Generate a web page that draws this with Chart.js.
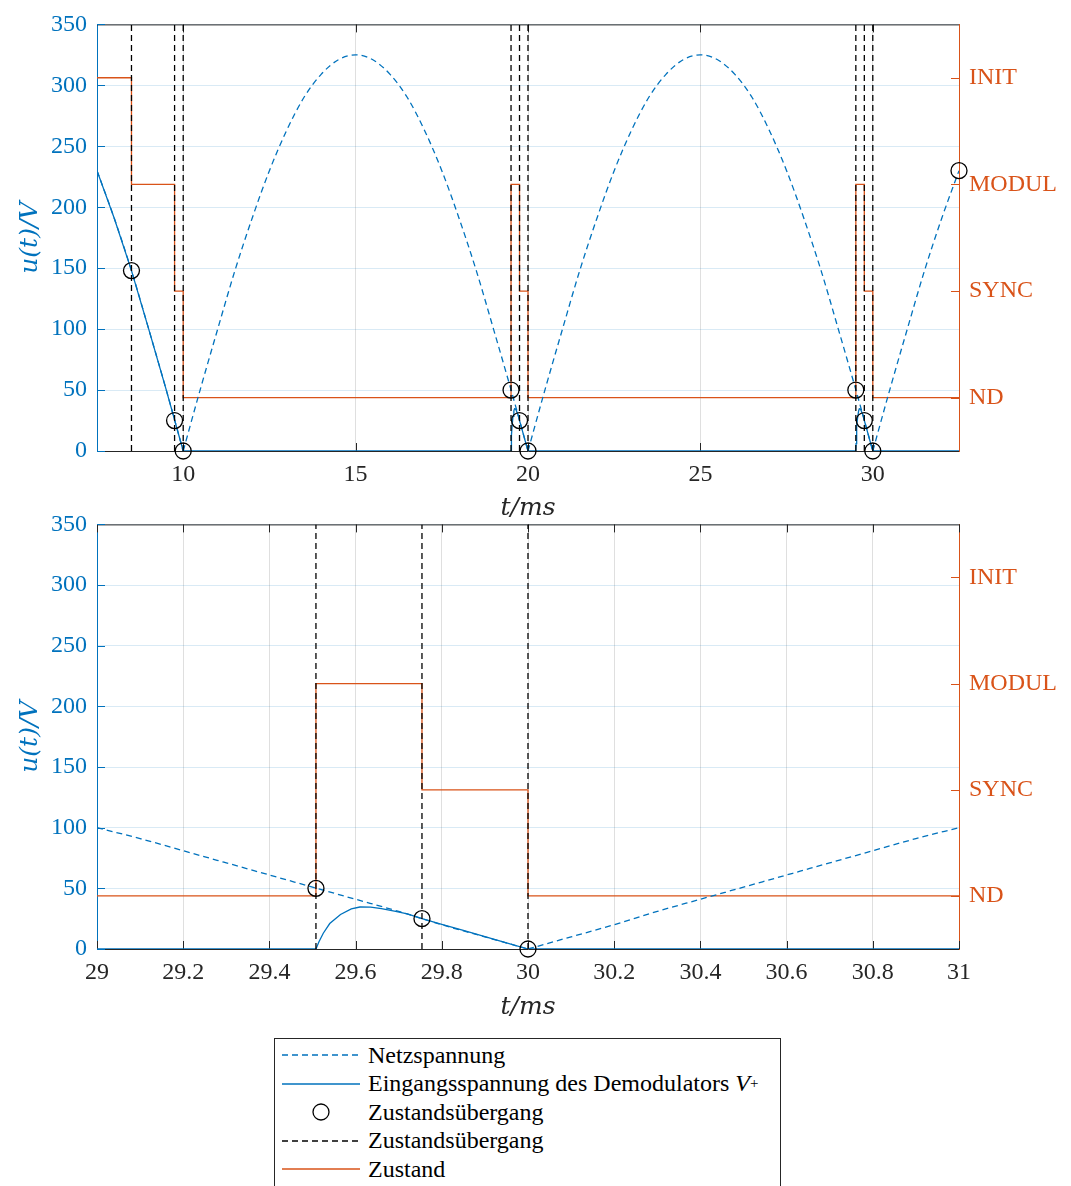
<!DOCTYPE html>
<html>
<head>
<meta charset="utf-8">
<script src="https://cdn.jsdelivr.net/npm/chart.js@4.4.1/dist/chart.umd.min.js"></script>
<style>
  body { margin: 0; background: #fff; width: 1071px; height: 1186px; overflow: hidden; position: relative; }
  canvas { position: absolute; left: 0; }
  #topChart { top: 0; }
  #bottomChart { top: 500px; }
  #legend {
    position: absolute; left: 274px; top: 1038px; width: 507px; height: 170px;
    border: 1px solid #262626; box-sizing: border-box; padding-top: 2px;
    font-family: 'Liberation Serif', 'Times New Roman', Times, 'DejaVu Serif', serif; font-size: 24px; color: #000;
  }
  #legend .row { height: 28.5px; display: flex; align-items: center; }
  #legend svg { margin-left: 7px; margin-right: 8px; flex: none; }
  #legend sub { font-size: 15px; }
</style>
</head>
<body>
<canvas id="topChart" width="1071" height="525"></canvas>
<canvas id="bottomChart" width="1071" height="530"></canvas>
<div id="legend">
  <div class="row"><svg width="78" height="20"><line x1="0" y1="10" x2="78" y2="10" stroke="#0072BD" stroke-width="1.3" stroke-dasharray="6 4"/></svg>Netzspannung</div>
  <div class="row"><svg width="78" height="20"><line x1="0" y1="10" x2="78" y2="10" stroke="#0072BD" stroke-width="1.3"/></svg>Eingangsspannung des Demodulators&nbsp;<i>V</i><sub>+</sub></div>
  <div class="row"><svg width="78" height="20"><circle cx="39" cy="10" r="8" fill="none" stroke="#000" stroke-width="1.3"/></svg>Zustandsübergang</div>
  <div class="row"><svg width="78" height="20"><line x1="0" y1="10" x2="78" y2="10" stroke="#000" stroke-width="1.3" stroke-dasharray="6 4"/></svg>Zustandsübergang</div>
  <div class="row"><svg width="78" height="20"><line x1="0" y1="10" x2="78" y2="10" stroke="#D95319" stroke-width="1.3"/></svg>Zustand</div>
</div>
<script>
const blue = '#0072BD';
const orange = '#D95319';
const ink = '#262626';

// ---- top plot, 7.5 .. 32.5 ms ----
const netzTimeTop = [7.5, 8, 8.5, 9, 9.5, 10, 10.5, 11, 11.5, 12, 12.5, 13, 13.5, 14, 14.5, 15, 15.5, 16, 16.5, 17, 17.5, 18, 18.5, 19, 19.5, 20,
  20.5, 21, 21.5, 22, 22.5, 23, 23.5, 24, 24.5, 25, 25.5, 26, 26.5, 27, 27.5, 28, 28.5, 29, 29.5, 30, 30.5, 31, 31.5, 32, 32.5];
const netzVoltTop = [230, 191, 148, 100, 51, 0, 51, 100, 148, 191, 230, 263, 290, 309, 321, 325, 321, 309, 290, 263, 230, 191, 148, 100, 51, 0,
  51, 100, 148, 191, 230, 263, 290, 309, 321, 325, 321, 309, 290, 263, 230, 191, 148, 100, 51, 0, 51, 100, 148, 191, 230];

const vplusTimeTop = [7.5, 8, 8.5, 9, 9.5, 10,
  19.508, 19.515, 19.525, 19.54, 19.565, 19.59, 19.61, 19.635, 19.66, 19.69, 19.72, 19.754, 19.8, 19.85, 19.9, 19.95, 20,
  29.508, 29.515, 29.525, 29.54, 29.565, 29.59, 29.61, 29.635, 29.66, 29.69, 29.72, 29.754, 29.8, 29.85, 29.9, 29.95, 30, 32.5];
const vplusVoltTop = [230, 191, 148, 100, 51, 0,
  0, 6, 13, 21, 28.5, 33, 34.6, 34.5, 33.2, 31.2, 29, 25, 20.4, 15.3, 10.2, 5.1, 0,
  0, 6, 13, 21, 28.5, 33, 34.6, 34.5, 33.2, 31.2, 29, 25, 20.4, 15.3, 10.2, 5.1, 0, 0];

const stateTimeTop = [7.5, 8.5, 9.75, 10, 19.508, 19.754, 20, 29.508, 29.754, 30, 32.5];
const stateTop = ['INIT', 'MODUL', 'SYNC', 'ND', 'MODUL', 'SYNC', 'ND', 'MODUL', 'SYNC', 'ND', 'ND'];

const switchTimeTop = [8.5, 9.75, 10, 19.508, 19.754, 20, 29.508, 29.754, 30];
const markTimeTop = [8.5, 9.75, 10, 19.508, 19.754, 20, 29.508, 29.754, 30, 32.5];
const markVoltTop = [148, 25, 0, 50, 25, 0, 50, 25, 0, 230];
const xTicksTop = [10, 15, 20, 25, 30];

// ---- bottom plot, zoom 29 .. 31 ms ----
const netzTimeBot = [29, 29.1, 29.2, 29.3, 29.4, 29.5, 29.6, 29.7, 29.8, 29.9, 30, 30.1, 30.2, 30.3, 30.4, 30.5, 30.6, 30.7, 30.8, 30.9, 31];
const netzVoltBot = [100, 91, 81, 71, 61, 51, 41, 31, 20, 10, 0, 10, 20, 31, 41, 51, 61, 71, 81, 91, 100];

const vplusTimeBot = [29, 29.508, 29.515, 29.525, 29.54, 29.565, 29.59, 29.61, 29.635, 29.66, 29.69, 29.72, 29.754, 29.8, 29.85, 29.9, 29.95, 30, 31];
const vplusVoltBot = [0, 0, 6, 13, 21, 28.5, 33, 34.6, 34.5, 33.2, 31.2, 29, 25, 20.4, 15.3, 10.2, 5.1, 0, 0];

const stateTimeBot = [29, 29.508, 29.754, 30, 31];
const stateBot = ['ND', 'MODUL', 'SYNC', 'ND', 'ND'];

const switchTimeBot = [29.508, 29.754, 30];
const markTimeBot = [29.508, 29.754, 30];
const markVoltBot = [50, 25, 0];
const xTicksBot = [29, 29.2, 29.4, 29.6, 29.8, 30, 30.2, 30.4, 30.6, 30.8, 31];

const yTicks = [0, 50, 100, 150, 200, 250, 300, 350];
const stateLabels = ['ND', 'SYNC', 'MODUL', 'INIT'];

const serif = "'Liberation Serif', 'Times New Roman', Times, 'DejaVu Serif', serif";
const tickFont = { family: serif, size: 24 };
const titleFont = { family: "'DejaVu Serif', 'Liberation Serif', 'Times New Roman', serif", style: 'italic', size: 25 };

function pts(ts, vs) {
  return ts.map((t, i) => ({ x: t, y: vs[i] }));
}

// split the rectified sine at its zeros so every half wave keeps a sharp cusp
function halfWaves(ts, vs) {
  const out = [];
  let cur = [];
  ts.forEach((t, i) => {
    cur.push({ x: t, y: vs[i] });
    if (vs[i] === 0 && cur.length > 1) {
      out.push(cur);
      cur = [{ x: t, y: vs[i] }];
    }
  });
  if (cur.length > 1) out.push(cur);
  return out;
}

function switchLines(ts) {
  const d = [];
  ts.forEach(t => {
    d.push({ x: t, y: 0 }, { x: t, y: 350 }, { x: t, y: null });
  });
  return d;
}

const innerTicks = {
  id: 'innerTicks',
  beforeDatasetsDraw(chart) {
    const { ctx, chartArea: a, scales } = chart;
    const len = 8;
    ctx.save();
    ctx.lineWidth = 1;
    ctx.strokeStyle = ink;
    ctx.beginPath();
    scales.x.ticks.forEach(t => {
      const px = Math.round(scales.x.getPixelForValue(t.value)) + 0.5;
      ctx.moveTo(px, a.bottom);
      ctx.lineTo(px, a.bottom - len);
      ctx.moveTo(px, a.top);
      ctx.lineTo(px, a.top + len);
    });
    ctx.moveTo(a.left, a.top + 0.5);
    ctx.lineTo(a.right, a.top + 0.5);
    ctx.stroke();

    ctx.strokeStyle = blue;
    ctx.beginPath();
    scales.y.ticks.forEach(t => {
      const py = Math.round(scales.y.getPixelForValue(t.value)) + 0.5;
      ctx.moveTo(a.left, py);
      ctx.lineTo(a.left + len, py);
    });
    ctx.stroke();

    ctx.strokeStyle = orange;
    ctx.beginPath();
    scales.y1.ticks.forEach(t => {
      const py = Math.round(scales.y1.getPixelForValue(t.value)) + 0.5;
      ctx.moveTo(a.right, py);
      ctx.lineTo(a.right - len, py);
    });
    ctx.stroke();
    ctx.restore();
  }
};

function makeChart(id, d) {
  const datasets = [];
  datasets.push({
    label: 'Zustandsübergang',
    data: pts(d.markTime, d.markVolt),
    showLine: false,
    pointStyle: 'circle',
    pointRadius: 8,
    pointBorderColor: '#000',
    pointBackgroundColor: 'rgba(0,0,0,0)',
    pointBorderWidth: 1.3,
    clip: false,
    yAxisID: 'y'
  });
  datasets.push({
    label: 'Zustandsübergang',
    data: switchLines(d.switchTime),
    borderColor: '#000',
    borderWidth: 1.3,
    borderDash: [6, 4],
    pointRadius: 0,
    spanGaps: false,
    yAxisID: 'y'
  });
  datasets.push({
    label: 'Eingangsspannung des Demodulators V+',
    data: pts(d.vplusTime, d.vplusVolt),
    borderColor: blue,
    borderWidth: 1.3,
    pointRadius: 0,
    yAxisID: 'y'
  });
  halfWaves(d.netzTime, d.netzVolt).forEach(w => {
    datasets.push({
      label: 'Netzspannung',
      data: w,
      borderColor: blue,
      borderWidth: 1.3,
      borderDash: [6, 4],
      pointRadius: 0,
      cubicInterpolationMode: 'monotone',
      yAxisID: 'y'
    });
  });
  datasets.push({
    label: 'Zustand',
    data: d.stateTime.map((t, i) => ({ x: t, y: stateLabels.indexOf(d.state[i]) + 1 })),
    borderColor: orange,
    borderWidth: 1.3,
    pointRadius: 0,
    stepped: 'before',
    yAxisID: 'y1'
  });

  return new Chart(document.getElementById(id).getContext('2d'), {
    type: 'line',
    data: { datasets: datasets },
    plugins: [innerTicks],
    options: {
      responsive: false,
      animation: false,
      events: [],
      layout: { padding: { top: 21, left: 0, right: 0, bottom: 0 } },
      plugins: {
        legend: { display: false },
        tooltip: { enabled: false },
        title: { display: false }
      },
      scales: {
        x: {
          type: 'linear',
          min: d.xMin,
          max: d.xMax,
          afterBuildTicks: s => { s.ticks = d.xTicks.map(v => ({ value: v })); },
          afterFit: s => { s.height = d.xHeight; },
          ticks: { color: ink, font: tickFont, padding: 9, autoSkip: false, maxRotation: 0, callback: v => String(v) },
          grid: { color: 'rgba(38,38,38,0.15)', drawTicks: false },
          border: { color: ink, width: 1 },
          title: { display: true, text: 't/ms', color: ink, font: titleFont, padding: { top: 0, bottom: d.titlePad } }
        },
        y: {
          position: 'left',
          min: 0,
          max: 350,
          afterBuildTicks: s => { s.ticks = yTicks.map(v => ({ value: v })); },
          afterFit: s => { s.width = 97; },
          ticks: { color: blue, font: tickFont, padding: 10, callback: v => String(v) },
          grid: { color: 'rgba(0,114,189,0.15)', drawTicks: false },
          border: { color: blue, width: 1 },
          title: { display: true, text: 'u(t)/V', color: blue, font: titleFont, padding: { top: 15, bottom: 0 } }
        },
        y1: {
          position: 'right',
          min: 0.5,
          max: 4.5,
          afterBuildTicks: s => { s.ticks = stateLabels.map((l, i) => ({ value: i + 1 })); },
          afterFit: s => { s.width = 112; },
          ticks: { color: orange, font: tickFont, padding: 10, callback: v => stateLabels[v - 1] },
          grid: { display: false, drawTicks: false },
          border: { color: orange, width: 1 }
        }
      }
    }
  });
}

makeChart('topChart', {
  netzTime: netzTimeTop, netzVolt: netzVoltTop,
  vplusTime: vplusTimeTop, vplusVolt: vplusVoltTop,
  stateTime: stateTimeTop, state: stateTop,
  switchTime: switchTimeTop,
  markTime: markTimeTop, markVolt: markVoltTop,
  xTicks: xTicksTop, xMin: 7.5, xMax: 32.5,
  xHeight: 74, titlePad: 2
});

makeChart('bottomChart', {
  netzTime: netzTimeBot, netzVolt: netzVoltBot,
  vplusTime: vplusTimeBot, vplusVolt: vplusVoltBot,
  stateTime: stateTimeBot, state: stateBot,
  switchTime: switchTimeBot,
  markTime: markTimeBot, markVolt: markVoltBot,
  xTicks: xTicksBot, xMin: 29, xMax: 31,
  xHeight: 81, titlePad: 8
});
</script>
</body>
</html>
